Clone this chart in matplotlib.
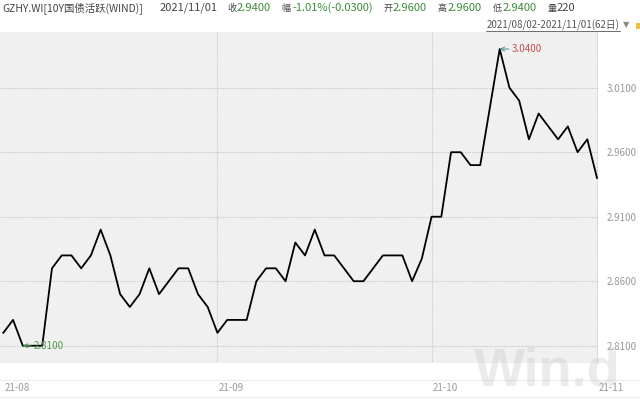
import matplotlib
matplotlib.use("Agg")
import matplotlib.pyplot as plt
from matplotlib.lines import Line2D
from matplotlib.patches import Rectangle

plt.rcParams['font.family'] = ['Noto Sans CJK SC', 'DejaVu Sans']

# daily close of 10Y treasury active contract, 2021/08/02 - 2021/11/01 (62 days)
aug = [2.82, 2.83, 2.81, 2.81, 2.81, 2.87, 2.88, 2.88, 2.87, 2.88, 2.90,
       2.88, 2.85, 2.84, 2.85, 2.87, 2.85, 2.86, 2.87, 2.87, 2.85, 2.84]
sep = [2.82, 2.83, 2.83, 2.83, 2.86, 2.87, 2.87, 2.86, 2.89, 2.88, 2.90,
       2.88, 2.88, 2.87, 2.86, 2.86, 2.87, 2.88, 2.88, 2.88, 2.86, 2.8775]
octo = [2.91, 2.91, 2.96, 2.96, 2.95, 2.95, 2.995, 3.04, 3.01, 3.00, 2.97,
        2.99, 2.98, 2.97, 2.98, 2.96, 2.97]
nov = [2.94]
closes = aug + sep + octo + nov

month_labels = ["21-08", "21-09", "21-10", "21-11"]
month_starts = [0, len(aug), len(aug) + len(sep), len(aug) + len(sep) + len(octo)]
y_ticks = [2.81, 2.86, 2.91, 2.96, 3.01]

W, H = 640, 400
fig = plt.figure(figsize=(6.4, 4.0), dpi=100)
fig.patch.set_facecolor("white")

ax = fig.add_axes([0, 37 / H, 598 / W, 331 / H])
ax.set_facecolor("#f0f0f0")
for s in ax.spines.values():
    s.set_visible(False)

x = list(range(len(closes)))
ax.plot(x, closes, color="black", lw=1.3, zorder=3)

ax.set_xlim(-0.34, 61.1)
ax.set_ylim(2.7966, 3.0532)

ax.set_yticks(y_ticks)
ax.set_yticklabels([f"{v:.4f}" for v in y_ticks])
ax.yaxis.tick_right()
ax.tick_params(axis="y", length=0, pad=6, labelsize=7, labelcolor="#999999")

ax.set_xticks(month_starts[1:])
ax.set_xticklabels([])
ax.tick_params(axis="x", length=0)
ax.grid(True, ls=(0, (1, 1.2)), color="#c4c4c4", lw=0.8)

# month labels
for lab, pos in zip(month_labels, month_starts):
    ax.annotate(lab, xy=(pos, 0), xycoords=("data", "axes fraction"),
                xytext=(1.5, -25), textcoords="offset pixels",
                ha="left", va="center", fontsize=7, color="#999999")

# max / min markers
imax = closes.index(max(closes))
imin = closes.index(min(closes))
ax.annotate(f"{closes[imax]:.4f}", xy=(imax, closes[imax]),
            xytext=(12, 0), textcoords="offset pixels",
            ha="left", va="center", fontsize=7, color="#c0504d",
            arrowprops=dict(arrowstyle="->", color="#4f8f8f", lw=0.7,
                            shrinkA=0, shrinkB=0))
ax.annotate(f"{closes[imin]:.4f}", xy=(imin, closes[imin]),
            xytext=(11, 0), textcoords="offset pixels",
            ha="left", va="center", fontsize=7, color="#4e9a4e",
            arrowprops=dict(arrowstyle="->", color="#4e9a4e", lw=0.7,
                            shrinkA=0, shrinkB=0))

# bottom separator lines
for yy in (380, 397):
    fig.add_artist(Line2D([0, 1], [1 - yy / H] * 2, color="#ececec", lw=0.8))

# header: (x pixel, text, colour, font size)
dark = "#444444"
green = "#3a8a3a"
hy = 1 - 8 / H
pieces = [
    (2, "GZHY.WI[10Y国债活跃(WIND)]", dark, 7.5),
    (160, "2021/11/01", dark, 8),
    (227, "收", dark, 6.5), (237, "2.9400", green, 8),
    (281, "幅", dark, 6.5), (292, "-1.01%(-0.0300)", green, 8),
    (384, "开", dark, 6.5), (393, "2.9600", green, 8),
    (438, "高", dark, 6.5), (448, "2.9600", green, 8),
    (493, "低", dark, 6.5), (503, "2.9400", green, 8),
    (548, "量", dark, 6.5), (557, "220", dark, 8),
]
for px, txt, col, fs in pieces:
    fig.text(px / W, hy, txt, ha="left", va="center", fontsize=fs, color=col)

fig.text(620 / W, 1 - 25 / H, "2021/08/02-2021/11/01(62日)", ha="right",
         va="center", fontsize=7, color="#555555")
fig.add_artist(Line2D([486 / W, 620 / W], [1 - 31 / H] * 2, color="#555555", lw=0.6))
fig.text(626 / W, 1 - 25 / H, "▼", ha="center", va="center", fontsize=6,
         color="#888888", family="DejaVu Sans")
fig.add_artist(Rectangle((636 / W, 1 - 29 / H), 4 / W, 6 / H,
                         transform=fig.transFigure, color="#f0c040", lw=0))

# watermark
fig.text(474 / W, 1 - 386 / H, "Win.d", ha="left", va="baseline",
         fontsize=39, fontweight="bold", color="#c0c0c0", alpha=0.3,
         family="Liberation Sans", zorder=10)

fig.savefig("out.png", dpi=100)
